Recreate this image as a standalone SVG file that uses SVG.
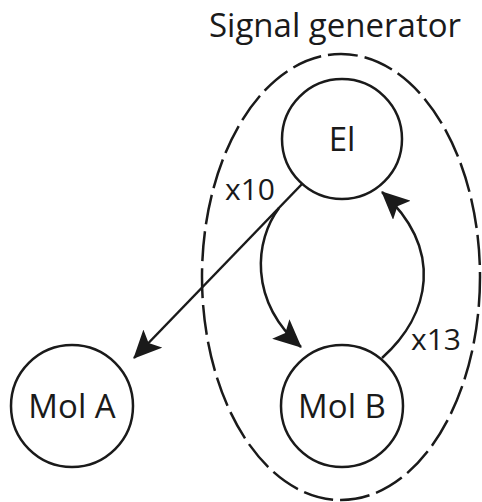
<svg xmlns="http://www.w3.org/2000/svg" width="482" height="502" viewBox="0 0 482 502">
<style>
.node{fill:#fff;stroke:#1a1a1a;stroke-width:2.5}
.lbl{font-family:"Open Sans","Liberation Sans",sans-serif;font-size:33px;fill:#1a1a1a;text-anchor:middle}
.edge{fill:none;stroke:#1a1a1a;stroke-width:2.5}
.elbl{font-family:"Open Sans","Liberation Sans",sans-serif;font-size:30px;fill:#1a1a1a}
</style>
<defs>
<marker id="ah" markerUnits="userSpaceOnUse" markerWidth="28" markerHeight="26" viewBox="0 0 28 26" refX="27" refY="13" orient="auto">
<path d="M0,0 L28,13 L0,26 L6,13 z" fill="#1a1a1a"/>
</marker>
</defs>
<rect width="482" height="502" fill="#fff"/>
<g id="signal-generator">
<ellipse cx="341" cy="277" rx="139" ry="223" fill="none" stroke="#1a1a1a" stroke-width="2.5" stroke-dasharray="30 7"/>
<text x="335" y="37" class="lbl" font-size="32">Signal generator</text>
</g>
<g id="connectors">
<path class="edge" d="M302,184 L134,358" marker-end="url(#ah)"/>
<path class="edge" d="M279,208 C255,240 248,300 301,347" marker-end="url(#ah)"/>
<path class="edge" d="M382,358 C430,315 445,250 382,192" marker-end="url(#ah)"/>
<text x="225" y="200" class="elbl">x10</text>
<text x="411" y="350" class="elbl">x13</text>
</g>
<g id="El">
<circle cx="342" cy="139" r="60" class="node"/>
<text x="342" y="151" class="lbl">El</text>
</g>
<g id="MolA">
<circle cx="72" cy="406" r="61" class="node"/>
<text x="72" y="418" class="lbl">Mol A</text>
</g>
<g id="MolB">
<circle cx="342" cy="406" r="61" class="node"/>
<text x="342" y="418" class="lbl">Mol B</text>
</g>
</svg>
